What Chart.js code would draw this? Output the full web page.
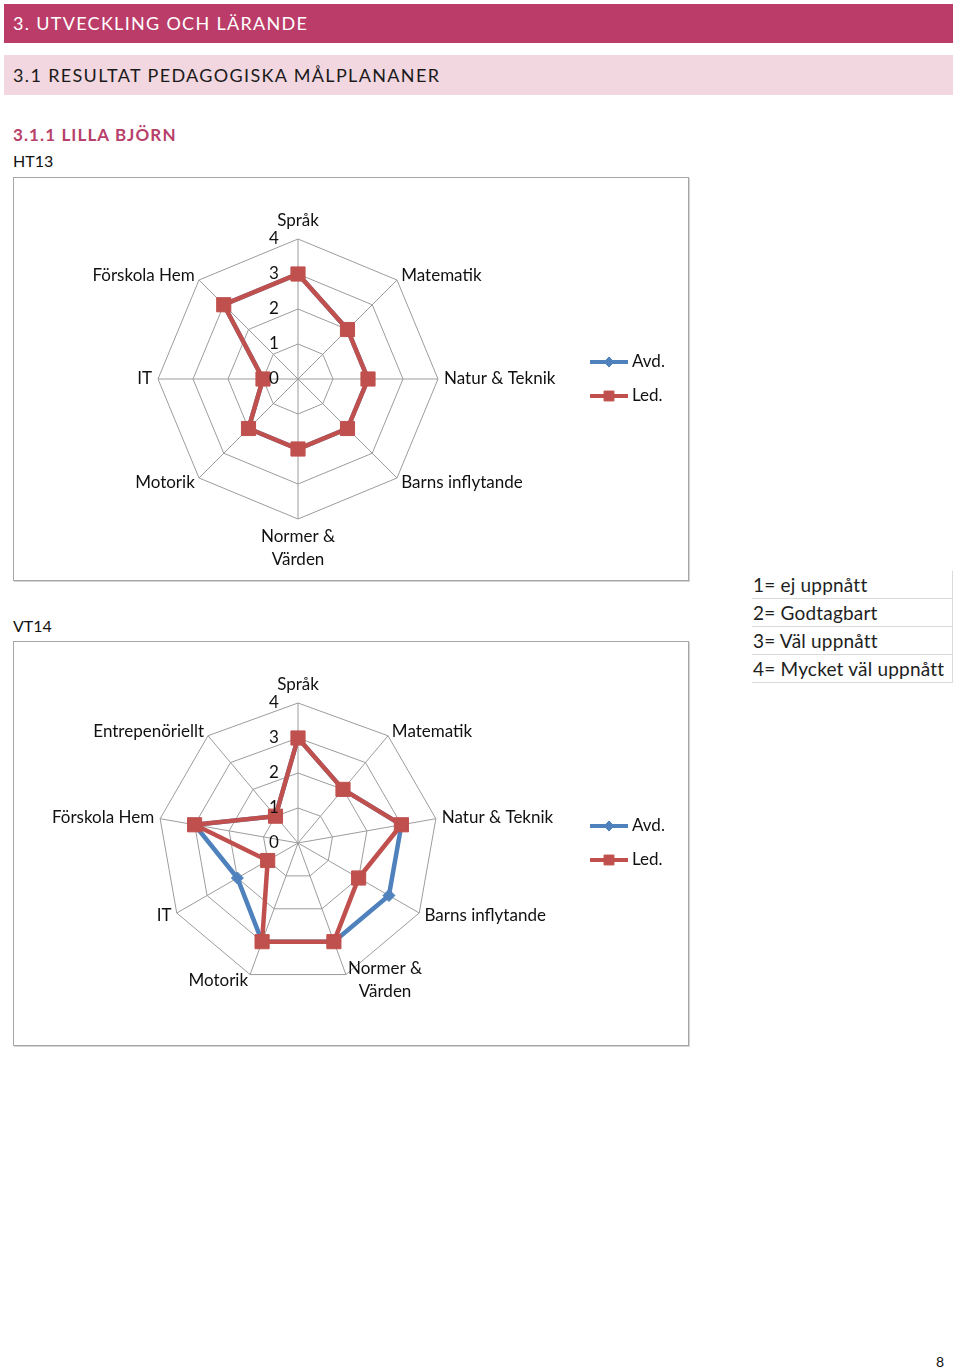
<!DOCTYPE html>
<html lang="sv">
<head>
<meta charset="utf-8">
<title>Utveckling och lärande</title>
<script src="https://cdn.jsdelivr.net/npm/chart.js@4.4.1/dist/chart.umd.min.js"></script>
<style>
  body { margin: 0; width: 960px; height: 1371px; background: #fff; position: relative; font-family: Lato, "Open Sans", sans-serif; color: #111; }
  .t { position: absolute; white-space: nowrap; }
  .bar1 { position: absolute; left: 4px; top: 4px; width: 949px; height: 39px; background: #bb3c68; }
  .bar1 span { position: absolute; left: 9px; top: 0; line-height: 39px; color: #fff; font-size: 18px; letter-spacing: 1.3px; }
  .bar2 { position: absolute; left: 4px; top: 55px; width: 949px; height: 40px; background: #f2d7e0; }
  .bar2 span { position: absolute; left: 9px; top: 0; line-height: 40px; color: #1a1a1a; font-size: 18px; letter-spacing: 1.35px; }
  .box { position: absolute; left: 13px; width: 674px; border: 1px solid #a6a6a6; box-shadow: 1px 1px 0 #d4d4d4; }
  .box canvas { display: block; }
  .scale { position: absolute; left: 752px; top: 571px; width: 200px; border-right: 1px solid #d9d9d9; }
  .scale div { height: 27px; line-height: 28px; border-bottom: 1px solid #d9d9d9; font-size: 19px; letter-spacing: 0.2px; color: #1e1e1e; padding-left: 1px; white-space: nowrap; }
</style>
</head>
<body>

<div class="bar1"><span>3. UTVECKLING OCH LÄRANDE</span></div>
<div class="bar2"><span>3.1 RESULTAT PEDAGOGISKA MÅLPLANANER</span></div>

<div class="t" style="left:13px; top:125px; line-height:20px; font-size:17px; font-weight:bold; color:#b8406a; letter-spacing:1.1px;">3.1.1 LILLA BJÖRN</div>
<div class="t" style="left:13px; top:151px; line-height:20px; font-size:16px;">HT13</div>
<div class="t" style="left:13px; top:616px; line-height:20px; font-size:16px;">VT14</div>

<div class="box" style="top:177px; height:402px;"><canvas id="chartHT13" width="674" height="402"></canvas></div>
<div class="box" style="top:641px; height:403px;"><canvas id="chartVT14" width="674" height="403"></canvas></div>

<div class="scale">
  <div>1= ej uppnått</div>
  <div>2= Godtagbart</div>
  <div>3= Väl uppnått</div>
  <div>4= Mycket väl uppnått</div>
</div>

<div class="t" style="left:936px; top:1354px; line-height:16px; font-size:14px;">8</div>

<script>
// HT13
const labelsHT13 = ['Språk', 'Matematik', 'Natur & Teknik', 'Barns inflytande', ['Normer &', 'Värden'], 'Motorik', 'IT', 'Förskola Hem'];
const avdHT13 = [3, 2, 2, 2, 2, 2, 1, 3];
const ledHT13 = [3, 2, 2, 2, 2, 2, 1, 3];

// VT14
const labelsVT14 = ['Språk', 'Matematik', 'Natur & Teknik', 'Barns inflytande', ['Normer &', 'Värden'], 'Motorik', 'IT', 'Förskola Hem', 'Entrepenöriellt'];
const avdVT14 = [3, 2, 3, 3, 3, 3, 2, 3, 1];
const ledVT14 = [3, 2, 3, 2, 3, 3, 1, 3, 1];

const tickValues = [0, 1, 2, 3, 4];
const seriesNames = ['Avd.', 'Led.'];
const blue = '#4f81bd';
const red = '#c0504d';
const FONT = '17px Lato, "Open Sans", sans-serif';

// axis labels, tick numbers and legend, drawn from the radial scale
const radarText = {
    id: 'radarText',
    afterDatasetsDraw(chart) {
        const s = chart.scales.r;
        const ctx = chart.ctx;
        ctx.save();
        ctx.font = FONT;
        ctx.fillStyle = '#111';

        // tick numbers left of the top spoke
        ctx.textAlign = 'center';
        ctx.textBaseline = 'middle';
        tickValues.forEach(function(v) {
            ctx.fillText(String(v), s.xCenter - 24, s.yCenter - s.getDistanceFromCenterForValue(v));
        });

        // category labels
        const lh = 23;
        chart.data.labels.forEach(function(lab, i) {
            const lines = Array.isArray(lab) ? lab : [lab];
            const deg = Math.round(s.getIndexAngle(i) * 180 / Math.PI);
            if (deg === 0) {
                const p = s.getPointPosition(i, s.drawingArea + 18);
                ctx.textAlign = 'center';
                ctx.fillText(lines[0], p.x, p.y);
                return;
            }
            const p = s.getPointPosition(i, s.drawingArea + 6);
            if (deg === 180) {
                ctx.textAlign = 'center';
                lines.forEach(function(l, k) { ctx.fillText(l, p.x, p.y + lh / 2 + k * lh); });
                return;
            }
            const w = Math.max.apply(null, lines.map(function(l) { return ctx.measureText(l).width; }));
            const left = p.x > s.xCenter ? p.x : p.x - w;
            const top = p.y - lines.length * lh / 2;
            ctx.textAlign = 'center';
            lines.forEach(function(l, k) { ctx.fillText(l, left + w / 2, top + lh / 2 + k * lh); });
        });

        // legend
        chart.data.datasets.forEach(function(ds, j) {
            const y = s.yCenter + (j === 0 ? -17 : 17);
            const x0 = s.xCenter + 292;
            ctx.strokeStyle = ds.borderColor;
            ctx.lineWidth = 4;
            ctx.beginPath();
            ctx.moveTo(x0, y);
            ctx.lineTo(x0 + 38, y);
            ctx.stroke();
            ctx.fillStyle = ds.backgroundColor;
            ctx.lineWidth = 1;
            Chart.helpers.drawPoint(ctx, { pointStyle: ds.pointStyle, rotation: 0, radius: j === 0 ? 5 : 7, borderWidth: 1 }, x0 + 19, y);
            ctx.fillStyle = '#111';
            ctx.textAlign = 'left';
            ctx.fillText(ds.label, x0 + 42, y);
        });
        ctx.restore();
    }
};

function makeRadar(id, labels, avd, led, padBottom) {
    const ctx = document.getElementById(id).getContext('2d');
    return new Chart(ctx, {
        type: 'radar',
        data: {
            labels: labels,
            datasets: [{
                label: seriesNames[0],
                data: avd,
                borderColor: blue,
                backgroundColor: blue,
                borderWidth: 4.5,
                pointStyle: 'rectRot',
                pointRadius: 6,
                pointBorderWidth: 1,
                fill: false,
                order: 1
            }, {
                label: seriesNames[1],
                data: led,
                borderColor: red,
                backgroundColor: red,
                borderWidth: 4.5,
                pointStyle: 'rect',
                pointRadius: 10,
                pointBorderWidth: 1,
                fill: false,
                order: 0
            }]
        },
        options: {
            responsive: false,
            animation: false,
            layout: { padding: { left: 144, right: 250, top: 61, bottom: padBottom } },
            plugins: {
                legend: { display: false },
                tooltip: { enabled: false }
            },
            scales: {
                r: {
                    min: 0,
                    max: 4,
                    ticks: { display: false, stepSize: 1 },
                    grid: { color: '#9c9c9c', lineWidth: 1 },
                    angleLines: { color: '#9c9c9c', lineWidth: 1 },
                    pointLabels: { display: false }
                }
            }
        },
        plugins: [radarText]
    });
}

makeRadar('chartHT13', labelsHT13, avdHT13, ledHT13, 61);
makeRadar('chartVT14', labelsVT14, avdVT14, ledVT14, 62);
</script>
</body>
</html>
